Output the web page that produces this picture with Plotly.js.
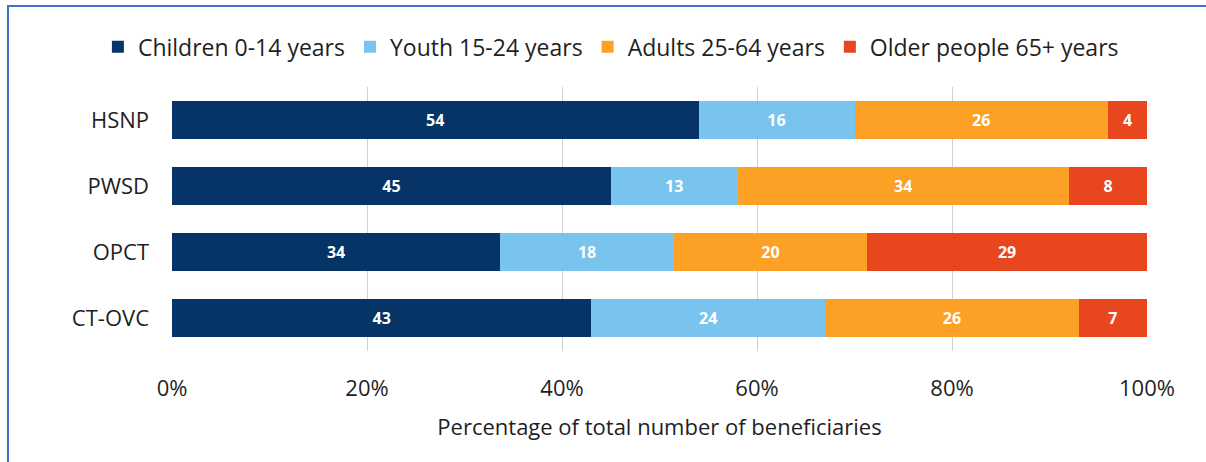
<!DOCTYPE html>
<html>
<head>
<meta charset="utf-8">
<script src="https://cdn.plot.ly/plotly-3.0.1.min.js"></script>
<style>
html,body{margin:0;padding:0;background:#fff;}
#chart{position:absolute;left:0;top:0;width:1206px;height:462px;}
.bl{position:absolute;background:#4472C4;}
</style>
</head>
<body>
<div id="chart"></div>
<div class="bl" style="left:7px;top:5px;width:1199px;height:2px;"></div>
<div class="bl" style="left:7px;top:5px;width:2px;height:457px;"></div>
<script>
const programmes = ["HSNP", "PWSD", "OPCT", "CT-OVC"];
const seriesNames = ["Children 0-14 years", "Youth 15-24 years", "Adults 25-64 years", "Older people 65+ years"];
const children = [54, 45, 34, 43];
const youth = [16, 13, 18, 24];
const adults = [26, 34, 20, 26];
const older = [4, 8, 29, 7];
const colors = ["#073466", "#78C4EE", "#FDA026", "#E8461E"];
const xTickVals = [0, 20, 40, 60, 80, 100];
const xTickText = ["0%", "20%", "40%", "60%", "80%", "100%"];

const values = [children, youth, adults, older];
const FONT = "'Open Sans', sans-serif";
const TXT = "#1f1f1f";
const traces = values.map((v, i) => ({
  type: "bar",
  orientation: "h",
  name: seriesNames[i],
  y: programmes,
  x: v,
  text: v.map(String),
  texttemplate: "%{text}",
  textposition: "inside",
  insidetextanchor: "middle",
  textangle: 0,
  textfont: {family: FONT, size: 16, color: "#ffffff", weight: "bold"},
  marker: {color: colors[i], line: {width: 0}},
  hoverinfo: "x+y+name"
}));

const layout = {
  width: 1206, height: 462,
  barmode: "stack",
  barnorm: "percent",
  bargap: 0.41,
  margin: {l: 172, r: 59, t: 87, b: 111},
  paper_bgcolor: "rgba(0,0,0,0)",
  plot_bgcolor: "#ffffff",
  font: {family: FONT, size: 22, color: TXT},
  showlegend: true,
  legend: {
    orientation: "h", x: -0.076, xanchor: "left", xref: "paper",
    y: 1.152, yref: "paper", yanchor: "middle",
    font: {family: FONT, size: 23, color: TXT},
    traceorder: "normal", itemclick: false
  },
  xaxis: {
    range: [0, 100],
    tickvals: xTickVals, ticktext: xTickText,
    showgrid: true, gridcolor: "#d0d0d0", gridwidth: 1,
    zeroline: false, showline: false, ticks: "",
    ticklabelstandoff: 22,
    tickfont: {family: FONT, size: 22, color: TXT},
    title: {text: "Percentage of total number of beneficiaries", standoff: 18,
            font: {family: FONT, size: 22, color: TXT}},
    fixedrange: true
  },
  yaxis: {
    autorange: "reversed",
    showgrid: false, zeroline: false, showline: false, ticks: "",
    ticklabelstandoff: 22,
    tickfont: {family: FONT, size: 22, color: TXT},
    fixedrange: true
  }
};

Plotly.newPlot("chart", traces, layout, {displayModeBar: false, staticPlot: true});
</script>
</body>
</html>
